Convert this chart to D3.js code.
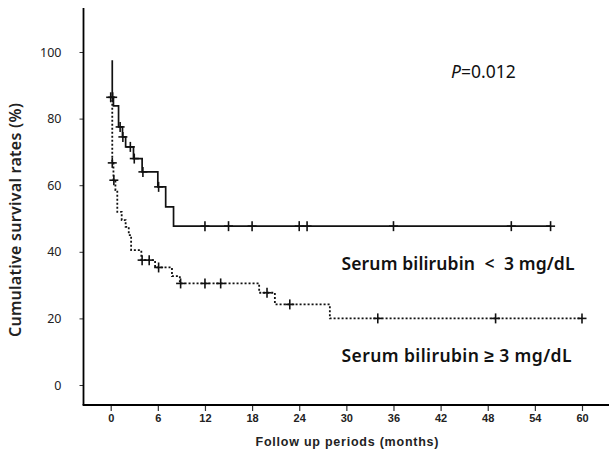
<!DOCTYPE html>
<html>
<head>
<meta charset="utf-8">
<script src="https://cdn.jsdelivr.net/npm/d3@7"></script>
<style>
  body { margin: 0; background: #fff; }
  svg { display: block; }
</style>
</head>
<body>
<div id="chart"></div>
<script>
// tick values
var xTicks = [0, 6, 12, 18, 24, 30, 36, 42, 48, 54, 60];
var yTicks = [0, 20, 40, 60, 80, 100];

// serum bilirubin < 3 mg/dL (solid) - step points (months, %)
var lowTimes = [0.2, 0.2, 0.35, 1.0, 1.5, 1.9, 2.9, 4.0, 6.0, 7.0, 8.0, 56];
var lowSurv  = [97.5, 86.4, 83.8, 77.5, 74.5, 71.5, 68, 64, 59.5, 53.5, 47.7, 47.7];
var lowCensorTimes = [0.25, 1.2, 1.55, 2.5, 3.0, 4.1, 6.1, 12, 15, 18, 24, 25, 36, 51, 56];
var lowCensorSurv  = [86.4, 77.5, 74.5, 71.5, 68, 64, 59.5, 47.7, 47.7, 47.7, 47.7, 47.7, 47.7, 47.7, 47.7];

// serum bilirubin >= 3 mg/dL (dotted)
var highTimes = [0, 0.2, 0.35, 0.6, 0.84, 1.4, 1.9, 2.3, 2.6, 3.9, 5.65, 7.8, 8.8, 18.9, 20.9, 27.9, 60];
var highSurv  = [86.4, 66.7, 61.5, 58.5, 52, 49.5, 47.5, 45, 40.5, 37.5, 35.3, 32.7, 30.5, 27.7, 24.2, 20, 20];
var highCensorTimes = [0, 0.2, 0.4, 4.0, 4.9, 6.1, 8.9, 12, 14, 19.9, 22.8, 34, 49, 60];
var highCensorSurv  = [86.4, 66.7, 61.5, 37.5, 37.5, 35.3, 30.5, 30.5, 30.5, 27.7, 24.2, 20, 20, 20];

function init() {
  var w = 609;
  var h = 452;

  var svg = d3.select("#chart")
              .append("svg")
              .attr("width", w)
              .attr("height", h);

  var xScale = d3.scaleLinear().domain([0, 60]).range([110.7, 582]);
  var yScale = d3.scaleLinear().domain([0, 100]).range([385, 52]);

  var axisX = 83.5;   // y axis position
  var axisY = 405;    // x axis position

  // x axis
  var xAxis = d3.axisBottom(xScale).tickValues(xTicks).tickSize(6).tickSizeOuter(0);
  var gx = svg.append("g")
    .attr("transform", "translate(0," + axisY + ")")
    .call(xAxis);
  gx.select(".domain").remove();
  gx.selectAll(".tick line").attr("stroke", "#333").attr("stroke-width", 1.2);
  gx.selectAll(".tick text")
    .attr("y", 9)
    .attr("fill", "#222")
    .style("font-family", "'Liberation Sans', Arial, sans-serif")
    .style("font-weight", "bold")
    .style("font-size", "11px");

  // y axis
  var yAxis = d3.axisLeft(yScale).tickValues(yTicks).tickSize(4).tickSizeOuter(0);
  var gy = svg.append("g")
    .attr("transform", "translate(" + axisX + ",0)")
    .call(yAxis);
  gy.select(".domain").remove();
  gy.selectAll(".tick line").attr("stroke", "#333").attr("stroke-width", 1);
  gy.selectAll(".tick text")
    .attr("x", -22)
    .attr("fill", "#222")
    .style("font-family", "'Noto Sans', sans-serif")
    .style("font-size", "12.5px");

  // axis lines
  svg.append("line")
    .attr("x1", axisX).attr("y1", 8)
    .attr("x2", axisX).attr("y2", axisY)
    .attr("stroke", "#000").attr("stroke-width", 1.8);
  svg.append("line")
    .attr("x1", axisX - 0.9).attr("y1", axisY)
    .attr("x2", w).attr("y2", axisY)
    .attr("stroke", "#000").attr("stroke-width", 1.8);

  // axis titles
  svg.append("text")
    .attr("x", 255.5)
    .attr("y", 446)
    .attr("textLength", 183)
    .attr("lengthAdjust", "spacing")
    .style("font-family", "'Liberation Sans', Arial, sans-serif")
    .style("font-weight", "bold")
    .style("font-size", "12.5px")
    .attr("fill", "#222")
    .text("Follow up periods (months)");

  svg.append("text")
    .attr("transform", "translate(20.5,337) rotate(-90)")
    .attr("textLength", 234)
    .attr("lengthAdjust", "spacing")
    .style("font-family", "'Noto Sans', sans-serif")
    .style("font-weight", "600")
    .style("font-size", "16px")
    .attr("fill", "#222")
    .text("Cumulative survival rates (%)");

  // curves
  var line = d3.line()
    .x(function(d) { return xScale(d[0]); })
    .y(function(d) { return yScale(d[1]); })
    .curve(d3.curveStepAfter);

  var lowData = d3.zip(lowTimes, lowSurv);
  var highData = d3.zip(highTimes, highSurv);

  svg.append("path")
    .datum(highData)
    .attr("d", line)
    .attr("fill", "none")
    .attr("stroke", "#111")
    .attr("stroke-width", 1.8)
    .style("stroke-dasharray", "2,2");

  svg.append("path")
    .datum(lowData)
    .attr("d", line)
    .attr("fill", "none")
    .attr("stroke", "#111")
    .attr("stroke-width", 1.7);

  // censor marks
  function censors(times, surv) {
    var pts = d3.zip(times, surv);
    var g = svg.append("g")
      .attr("stroke", "#111")
      .attr("stroke-width", 1.6);
    g.selectAll("line.hz")
      .data(pts)
      .enter().append("line")
      .attr("class", "hz")
      .attr("x1", function(d) { return xScale(d[0]) - 4.5; })
      .attr("x2", function(d) { return xScale(d[0]) + 4.5; })
      .attr("y1", function(d) { return yScale(d[1]); })
      .attr("y2", function(d) { return yScale(d[1]); });
    g.selectAll("line.vt")
      .data(pts)
      .enter().append("line")
      .attr("class", "vt")
      .attr("x1", function(d) { return xScale(d[0]); })
      .attr("x2", function(d) { return xScale(d[0]); })
      .attr("y1", function(d) { return yScale(d[1]) - 5; })
      .attr("y2", function(d) { return yScale(d[1]) + 5; });
  }
  censors(lowCensorTimes, lowCensorSurv);
  censors(highCensorTimes, highCensorSurv);

  // labels
  svg.append("text")
    .attr("x", 341.5)
    .attr("y", 269.5)
    .attr("textLength", 233)
    .attr("lengthAdjust", "spacing")
    .style("font-family", "'Noto Sans', sans-serif")
    .style("font-weight", "600")
    .style("font-size", "17.5px")
    .attr("fill", "#111")
    .text("Serum bilirubin \u00a0<\u00a0 3 mg/dL");

  svg.append("text")
    .attr("x", 341.5)
    .attr("y", 361.5)
    .attr("textLength", 230)
    .attr("lengthAdjust", "spacing")
    .style("font-family", "'Noto Sans', sans-serif")
    .style("font-weight", "600")
    .style("font-size", "17.5px")
    .attr("fill", "#111")
    .text("Serum bilirubin \u2265 3 mg/dL");

  var p = svg.append("text")
    .attr("x", 451)
    .attr("y", 78)
    .style("font-family", "'Noto Sans', sans-serif")
    .style("font-size", "17.5px")
    .attr("fill", "#111");
  p.append("tspan").style("font-style", "italic").text("P");
  p.append("tspan").text("=0.012");
}

window.onload = init;
</script>
</body>
</html>
